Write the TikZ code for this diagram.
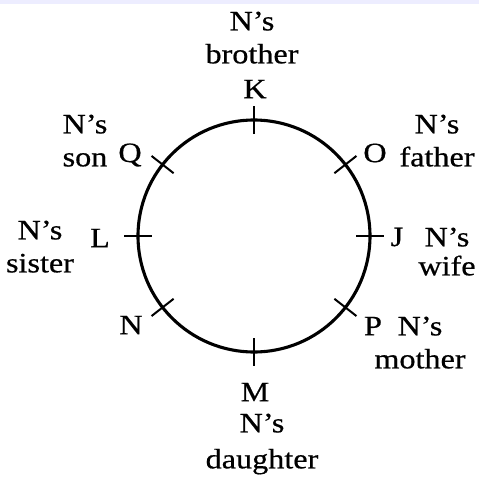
\documentclass[tikz,border=0pt]{standalone}
\usepackage{fontspec}
\setmainfont{Liberation Serif}[FakeStretch=1.15, FakeBold=0.6]
\usepackage{tikz}

\begin{document}
\begin{tikzpicture}[x=1pt, y=1pt,
  ring/.style={line width=3.1pt},
  seattick/.style={line width=2pt},
  seat/.style={font=\fontsize{28}{33}\selectfont, inner sep=0pt},
  relation/.style={font=\fontsize{28}{33}\selectfont, inner sep=0pt,
                   align=center, anchor=north},
  band/.style={fill=blue!7}
]
  \useasboundingbox (-254,-241) rectangle (225,236);
  \fill[band] (-254,236) rectangle (225,232);

  % the table
  \draw[ring] (0,0) circle (116);
  \foreach \a in {90,38,0,-38,-90,218,180,142}
    \draw[seattick] (\a:102) -- (\a:130);

  % seats
  \node[seat] (K) at (1,147) {K};
  \node[seat] (O) at (121,83) {O};
  \node[seat] (J) at (143,-1) {J};
  \node[seat] (P) at (119,-90) {P};
  \node[seat] (M) at (1,-156) {M};
  \node[seat] (N) at (-123,-89) {N};
  \node[seat] (L) at (-154,-2) {L};
  \node[seat] (Q) at (-124,81) {Q};

  % relations to N
  \node[relation] (brother) at (-2,224.5) {N’s\\brother};
  \node[relation] (father) at (183,121.5) {N’s\\father};
  \node[relation, font=\fontsize{28}{29}\selectfont] (wife) at (193,8.5) {N’s\\wife};
  \node[relation] (mother) at (166,-80.5) {N’s\\mother};
  \node[relation, font=\fontsize{28}{36}\selectfont] (daughter) at (8,-177.5) {N’s\\daughter};
  \node[relation] (sister) at (-214,15.5) {N’s\\sister};
  \node[relation] (son) at (-169,121.5) {N’s\\son};
\end{tikzpicture}
\end{document}
